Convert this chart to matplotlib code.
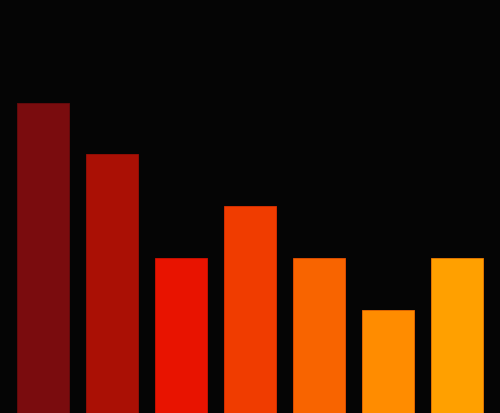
import matplotlib

matplotlib.use("Agg")
import matplotlib.pyplot as plt
import numpy as np

categories = ["A", "B", "C", "D", "E", "F", "G"]
values = [6, 5, 3, 4, 3, 2, 3]
colors = ["#7a0c0e", "#aa1005", "#e81300", "#f03c00", "#f86400", "#ff8c00", "#ffa000"]
edges = ["#6a0a0c", "#9a0e05", "#d01000", "#e03000", "#e85000", "#ee6a00", "#ee7a00"]


def main():
    fig = plt.figure(figsize=(5, 4.14), dpi=100, facecolor="#050505")
    ax = fig.add_axes([0, 0, 1, 1])
    ax.set_facecolor("#050505")
    x = np.arange(len(categories))
    ax.bar(x, values, width=0.754, color=colors, edgecolor=edges, linewidth=0.6)
    ax.set_xlim(-0.623, 6.623)
    ax.set_ylim(0, 8)
    ax.axis("off")
    fig.savefig("out.png", facecolor=fig.get_facecolor())


if __name__ == "__main__":
    main()
